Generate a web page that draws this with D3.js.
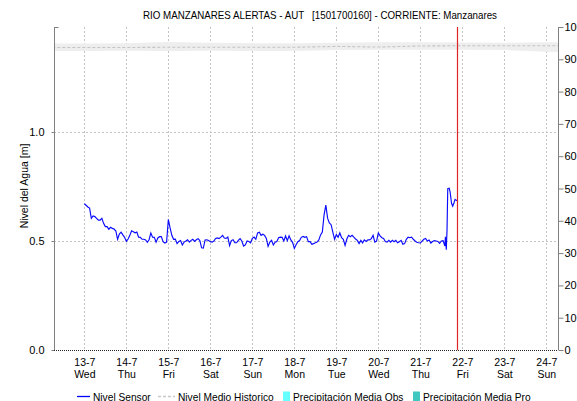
<!DOCTYPE html>
<html>
<head>
<meta charset="utf-8">
<script src="https://cdn.jsdelivr.net/npm/d3@7"></script>
<style>
  body { margin: 0; background: #fff; }
  svg { display: block; font-family: "Liberation Sans", Arial, sans-serif; }
</style>
</head>
<body>
<svg id="chart" width="577" height="401"></svg>
<script>
// ---- data ----
const chartTitle = "RIO MANZANARES ALERTAS - AUT   [1501700160] - CORRIENTE: Manzanares";
const yTitle = "Nivel del Agua [m]";

const dayDates = ["2022-07-13","2022-07-14","2022-07-15","2022-07-16","2022-07-17","2022-07-18",
                  "2022-07-19","2022-07-20","2022-07-21","2022-07-22","2022-07-23","2022-07-24"];
const dayLabels = ["13-7","14-7","15-7","16-7","17-7","18-7","19-7","20-7","21-7","22-7","23-7","24-7"];
const weekdayLabels = ["Wed","Thu","Fri","Sat","Sun","Mon","Tue","Wed","Thu","Fri","Sat","Sun"];

const levelTicks = [0, 0.5, 1.0];
const rainTicks = [0, 10, 20, 30, 40, 50, 60, 70, 80, 90, 100];

// hourly sensor readings from 13-7 00:00 to 21-7 13:00 (m)
const sensorStart = "2022-07-13T00:00:00Z";
const sensorLevels = [
  0.671,0.664,0.656,0.651,0.604,0.615,0.612,0.604,0.596,0.596,0.604,0.581,
  0.566,0.566,0.554,0.563,0.558,0.555,0.546,0.508,0.532,0.541,0.528,0.517,
  0.498,0.509,0.526,0.547,0.543,0.538,0.541,0.518,0.517,0.508,0.508,0.505,
  0.494,0.506,0.537,0.518,0.517,0.495,0.514,0.520,0.520,0.497,0.491,0.495,
  0.599,0.560,0.526,0.508,0.509,0.488,0.498,0.502,0.482,0.495,0.500,0.506,
  0.495,0.503,0.508,0.498,0.506,0.511,0.502,0.469,0.468,0.505,0.506,0.502,
  0.497,0.495,0.500,0.512,0.514,0.511,0.518,0.526,0.514,0.512,0.518,0.479,
  0.502,0.506,0.492,0.492,0.503,0.511,0.500,0.477,0.482,0.500,0.498,0.492,
  0.512,0.518,0.508,0.537,0.540,0.526,0.531,0.526,0.512,0.476,0.495,0.503,
  0.482,0.495,0.498,0.515,0.518,0.517,0.500,0.523,0.502,0.524,0.505,0.494,
  0.466,0.483,0.497,0.502,0.517,0.521,0.517,0.520,0.497,0.497,0.485,0.488,
  0.492,0.495,0.505,0.528,0.541,0.620,0.665,0.605,0.583,0.575,0.541,0.508,
  0.530,0.517,0.537,0.515,0.508,0.480,0.509,0.526,0.520,0.526,0.518,0.509,
  0.503,0.488,0.503,0.491,0.505,0.498,0.505,0.505,0.511,0.526,0.495,0.500,
  0.537,0.524,0.515,0.512,0.498,0.495,0.503,0.495,0.503,0.497,0.503,0.492,
  0.497,0.503,0.485,0.488,0.508,0.518,0.515,0.518,0.508,0.500,0.494,0.492,
  0.491,0.500,0.508,0.512,0.500,0.505,0.491,0.498,0.502,0.500,0.498,0.489,
  0.500,0.502
];
// last readings of 21-7, taken at irregular times during the rise
const tailTimes = ["2022-07-21T14:00:00Z","2022-07-21T14:20:00Z","2022-07-21T14:50:00Z",
                   "2022-07-21T15:15:00Z","2022-07-21T15:40:00Z","2022-07-21T16:30:00Z",
                   "2022-07-21T17:00:00Z","2022-07-21T17:50:00Z","2022-07-21T18:30:00Z",
                   "2022-07-21T19:10:00Z","2022-07-21T19:50:00Z","2022-07-21T20:58:00Z"];
const tailLevels = [0.477,0.520,0.460,0.550,0.740,0.742,0.726,0.673,0.660,0.673,0.691,0.685];

// historical mean level with its band (m), daily
const histDates = ["2022-07-12","2022-07-13","2022-07-14","2022-07-15","2022-07-16","2022-07-17","2022-07-18",
                   "2022-07-19","2022-07-20","2022-07-21","2022-07-22","2022-07-23","2022-07-24","2022-07-25"];
const histMean = [1.388,1.388,1.388,1.389,1.389,1.389,1.389,1.393,1.390,1.395,1.396,1.396,1.396,1.396];
const histHigh = [1.406,1.406,1.408,1.413,1.410,1.407,1.407,1.410,1.412,1.412,1.411,1.410,1.412,1.414];
const histLow  = [1.372,1.372,1.373,1.372,1.373,1.372,1.372,1.376,1.378,1.378,1.378,1.376,1.368,1.366];

const nowTime = "2022-07-21T21:00:00Z";
const xStart = "2022-07-12T06:40:00Z";
const xEnd   = "2022-07-24T06:40:00Z";
const levelMax = 1.482;

const legendNames = ["Nivel Sensor","Nivel Medio Historico","Precipitación Media Obs","Precipitación Media Pro"];
const legendColors = ["#0000ff","#c8c8c8","#66ffff","#40c8c0"];

// ---- layout ----
const svg = d3.select("#chart");
const plot = { left: 54, right: 558, top: 27, bottom: 350 };

const x = d3.scaleUtc().domain([new Date(xStart), new Date(xEnd)]).range([plot.left, plot.right]);
const y = d3.scaleLinear().domain([0, levelMax]).range([plot.bottom, plot.top]);
const yRain = d3.scaleLinear().domain([0, 100]).range([plot.bottom, plot.top]);

const t0 = new Date(sensorStart).getTime();
const sensor = sensorLevels.map((v, i) => ({ t: new Date(t0 + i * 3600e3), v }))
  .concat(tailTimes.map((t, i) => ({ t: new Date(t), v: tailLevels[i] })));
const hist = histDates.map((d, i) => ({ t: new Date(d + "T00:00:00Z"), m: histMean[i], hi: histHigh[i], lo: histLow[i] }));
const days = dayDates.map(d => new Date(d + "T00:00:00Z"));

svg.append("defs").append("clipPath").attr("id", "plotClip")
  .append("rect").attr("x", plot.left).attr("y", plot.top)
  .attr("width", plot.right - plot.left).attr("height", plot.bottom - plot.top);

// title
svg.append("text").attr("x", 320).attr("y", 19).attr("text-anchor", "middle")
  .attr("font-size", 11).attr("fill", "#000").style("white-space", "pre")
  .attr("textLength", 354).attr("lengthAdjust", "spacingAndGlyphs")
  .text(chartTitle);

// grid
const grid = svg.append("g").attr("stroke", "#c4c4c4").attr("stroke-dasharray", "2,2").attr("stroke-width", 1);
grid.selectAll("line.v").data(days).join("line").attr("class", "v")
  .attr("x1", d => Math.round(x(d)) + 0.5).attr("x2", d => Math.round(x(d)) + 0.5)
  .attr("y1", plot.top).attr("y2", plot.bottom);
grid.selectAll("line.h").data(levelTicks.filter(d => d > 0)).join("line").attr("class", "h")
  .attr("x1", plot.left).attr("x2", plot.right)
  .attr("y1", d => Math.round(y(d)) + 0.5).attr("y2", d => Math.round(y(d)) + 0.5);

// historical band and mean
const g = svg.append("g").attr("clip-path", "url(#plotClip)");
g.append("path").datum(hist)
  .attr("fill", "#eeeeee")
  .attr("d", d3.area().x(d => x(d.t)).y0(d => y(d.lo)).y1(d => y(d.hi)));
g.append("path").datum(hist)
  .attr("fill", "none").attr("stroke", "#c4c4c4").attr("stroke-width", 1.1).attr("stroke-dasharray", "3,2")
  .attr("d", d3.line().x(d => x(d.t)).y(d => y(d.m)));

// sensor line
g.append("path").datum(sensor)
  .attr("fill", "none").attr("stroke", "#0a0aff").attr("stroke-width", 1.15)
  .attr("d", d3.line().x(d => x(d.t)).y(d => y(d.v)));

// current time marker
const nowX = Math.round(x(new Date(nowTime))) + 0.5;
svg.append("line")
  .attr("x1", nowX).attr("x2", nowX)
  .attr("y1", plot.top).attr("y2", plot.bottom)
  .attr("stroke", "#e02424").attr("stroke-width", 1.2);

// axes
const axisColor = "#808080";
const leftAxis = svg.append("g").attr("transform", `translate(${plot.left + 0.5},0)`)
  .call(d3.axisLeft(y).tickValues(levelTicks).tickFormat(d3.format(".1f")).tickSize(3).tickSizeOuter(0).tickPadding(7));
const rightAxis = svg.append("g").attr("transform", `translate(${plot.right + 0.5},0)`)
  .call(d3.axisRight(yRain).tickValues(rainTicks).tickSize(5).tickSizeOuter(0).tickPadding(1));
[leftAxis, rightAxis].forEach(a => {
  a.select(".domain").attr("stroke", axisColor).attr("d", `M0,${plot.top}V${plot.bottom}`);
  a.selectAll(".tick line").attr("stroke", axisColor);
  a.selectAll(".tick text").attr("fill", "#000").attr("font-size", 11).attr("font-family", null);
});
leftAxis.append("line").attr("x1", 0).attr("x2", 4).attr("y1", plot.top + 0.5).attr("y2", plot.top + 0.5).attr("stroke", axisColor);

const bottomAxis = svg.append("g").attr("transform", `translate(0,${plot.bottom + 0.5})`)
  .call(d3.axisBottom(x).tickValues(days).tickSize(0).tickFormat(() => ""));
bottomAxis.select(".domain").attr("stroke", "#222").attr("stroke-dasharray", "1,1")
  .attr("d", `M${plot.left},0H${plot.right}`);
bottomAxis.selectAll(".tick text").each(function(d, i) {
  const t = d3.select(this).attr("y", 0).attr("dy", null).attr("font-size", 10.5)
    .attr("fill", "#000").attr("font-family", null);
  t.append("tspan").attr("x", 0).attr("y", 15).text(dayLabels[i]);
  t.append("tspan").attr("x", 0).attr("y", 27).text(weekdayLabels[i]);
});

// y-axis title
svg.append("text").attr("transform", "translate(28,186) rotate(-90)")
  .attr("text-anchor", "middle").attr("font-size", 10.5).attr("fill", "#000").text(yTitle);

// legend
const legend = svg.append("g").attr("font-size", 10.2).attr("fill", "#000");
const legendX = [77, 158, 283, 413];
legendNames.forEach((name, i) => {
  const lx = legendX[i], ly = 396.5;
  let tx;
  if (i === 0) {
    legend.append("line").attr("x1", lx).attr("x2", lx + 13).attr("y1", ly).attr("y2", ly)
      .attr("stroke", legendColors[i]).attr("stroke-width", 1.3);
    tx = lx + 16;
  } else if (i === 1) {
    legend.append("line").attr("x1", lx).attr("x2", lx + 17).attr("y1", ly).attr("y2", ly)
      .attr("stroke", legendColors[i]).attr("stroke-width", 1.3).attr("stroke-dasharray", "3,2");
    tx = lx + 20;
  } else {
    legend.append("rect").attr("x", lx).attr("y", ly - 5).attr("width", 7).attr("height", 10)
      .attr("fill", legendColors[i]);
    tx = lx + 10;
  }
  legend.append("text").attr("x", tx).attr("y", ly + 4).text(name);
});
</script>
</body>
</html>
